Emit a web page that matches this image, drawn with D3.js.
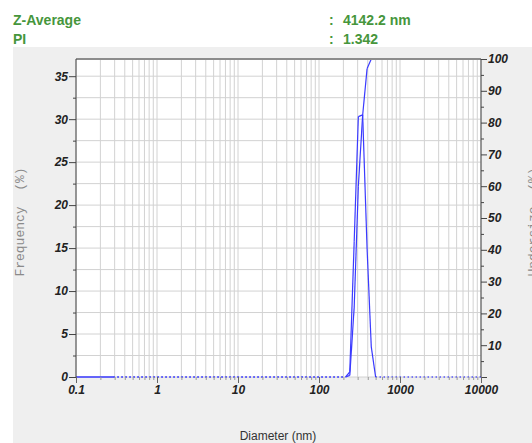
<!DOCTYPE html>
<html><head><meta charset="utf-8">
<script src="https://cdn.jsdelivr.net/npm/d3@7/dist/d3.min.js"></script>
<style>
html,body{margin:0;padding:0;background:#fff;}
</style></head>
<body><svg id="c" width="532" height="443"></svg>
<script>
// ---- data ----
const headerLabels = ["Z-Average", "PI"];
const headerValues = ["4142.2 nm", "1.342"];
const diameter  = [0.1, 0.29, 213, 240, 272, 306, 346, 392, 442, 500, 10000];
const frequency = [0, 0, 0, 0.6, 15.8, 30.3, 30.5, 15, 3.5, 0, 0];
const undersize = [0, 0, 0, 0.5, 22, 60, 82.4, 96.9, 100, 100, 100];
const xTickValues = [0.1, 1, 10, 100, 1000, 10000];
const xTickLabels = ["0.1", "1", "10", "100", "1000", "10000"];
const yLeftTicks = [0, 5, 10, 15, 20, 25, 30, 35];
const yRightTicks = [0, 10, 20, 30, 40, 50, 60, 70, 80, 90, 100];

const SANS = "Arial, 'Liberation Sans', sans-serif";
const MONO = "'Liberation Mono', 'DejaVu Sans Mono', monospace";
const svg = d3.select("#c");
const L = 76, R = 481, T = 59, B = 377;
const x = d3.scaleLog().domain([0.1, 10000]).range([L, R]);
const yL = d3.scaleLinear().domain([0, 37]).range([B, T]);
const yR = d3.scaleLinear().domain([0, 100]).range([B, T]);

// backgrounds
svg.append("rect").attr("x", 13).attr("y", 47).attr("width", 519).attr("height", 396).attr("fill", "#efefef");
svg.append("rect").attr("x", L).attr("y", T).attr("width", R - L).attr("height", B - T).attr("fill", "#fff");

// header
const green = "#46963c";
headerLabels.forEach((t, i) => {
  const yy = 25 + i * 19;
  [[13, t], [329, ":"], [343, headerValues[i]]].forEach(([xx, s]) => {
    svg.append("text").attr("x", xx).attr("y", yy).attr("fill", green)
      .style("font-family", SANS).style("font-size", "14px").style("font-weight", "bold").text(s);
  });
});

// grid
const gridCol = "#d2d2d2";
const minorX = [];
for (let e = -1; e < 4; e++) for (let k = 1; k <= 9; k++) minorX.push(k * Math.pow(10, e));
minorX.push(10000);
svg.append("g").selectAll("line").data(minorX).join("line")
  .attr("x1", d => x(d)).attr("x2", d => x(d)).attr("y1", T).attr("y2", B)
  .attr("stroke", gridCol).attr("stroke-width", 1);
const hGrid = d3.range(0, 37.01, 2.5);
svg.append("g").selectAll("line").data(hGrid).join("line")
  .attr("x1", L).attr("x2", R).attr("y1", d => yL(d)).attr("y2", d => yL(d))
  .attr("stroke", gridCol).attr("stroke-width", 1);

// series: flat runs after the first bin are drawn dotted
const blue = "#3a3aff";
function drawSeries(vals, yScale) {
  for (let i = 0; i < diameter.length - 1; i++) {
    const flat = vals[i] === vals[i + 1] && i > 0;
    svg.append("path")
      .attr("d", d3.line()([[x(diameter[i]), yScale(vals[i])], [x(diameter[i + 1]), yScale(vals[i + 1])]]))
      .attr("fill", "none").attr("stroke", blue)
      .attr("stroke-width", flat ? 1.3 : 1.2)
      .attr("stroke-dasharray", flat ? "1.2,2.8" : null);
  }
}
drawSeries(undersize, yR);
drawSeries(frequency, yL);

// frame top (drawn over the 100 % plateau)
svg.append("line").attr("x1", L).attr("x2", R).attr("y1", T).attr("y2", T)
  .attr("stroke", "#8c8c8c").attr("stroke-width", 2);

// axes
const tickFont = g => g.selectAll("text").style("font-size", "12px").style("font-weight", "bold")
  .style("font-style", "italic").attr("fill", "#222").style("font-family", SANS);
const axCol = g => { g.selectAll("path,line").attr("stroke", "#444"); };

// left
const gl = svg.append("g").attr("transform", `translate(${L},0)`)
  .call(d3.axisLeft(yL).tickValues(yLeftTicks).tickSize(7).tickPadding(1).tickFormat(d3.format("d")));
gl.select(".domain").attr("d", `M0,${T}V${B}`);
axCol(gl); tickFont(gl);
const glm = svg.append("g").attr("transform", `translate(${L},0)`)
  .call(d3.axisLeft(yL).tickValues(d3.range(2.5, 37, 5)).tickSize(3).tickFormat(""));
glm.select(".domain").remove(); axCol(glm);

// right
const gr = svg.append("g").attr("transform", `translate(${R},0)`)
  .call(d3.axisRight(yR).tickValues(yRightTicks).tickSize(6).tickPadding(1)
    .tickFormat(d => d === 0 ? "" : d3.format("d")(d)));
gr.select(".domain").attr("d", `M0,${T}V${B}`);
axCol(gr); tickFont(gr);
const grm = svg.append("g").attr("transform", `translate(${R},0)`)
  .call(d3.axisRight(yR).tickValues(d3.range(5, 100, 10)).tickSize(3).tickFormat(""));
grm.select(".domain").remove(); axCol(grm);

// bottom
const gb = svg.append("g").attr("transform", `translate(0,${B})`)
  .call(d3.axisBottom(x).tickValues(xTickValues).tickSize(6).tickPadding(2)
    .tickFormat((d, i) => xTickLabels[i]));
gb.select(".domain").remove();
axCol(gb); tickFont(gb);
gb.selectAll("line").attr("stroke", "#666");
const gbm = svg.append("g").attr("transform", `translate(0,${B})`)
  .call(d3.axisBottom(x).tickValues(minorX.filter(d => !xTickValues.includes(d))).tickSize(3).tickFormat(""));
gbm.select(".domain").remove();
gbm.selectAll("line").attr("stroke", "#999");

// axis titles
svg.append("text").attr("transform", "translate(24,222) rotate(-90)").attr("text-anchor", "middle")
  .style("font-family", MONO).style("font-size", "13px")
  .attr("fill", "#8a8a8a").attr("xml:space", "preserve").style("white-space", "pre").text("Frequency  (%)");
svg.append("text").attr("transform", "translate(537,222) rotate(-90)").attr("text-anchor", "middle")
  .style("font-family", MONO).style("font-size", "13px")
  .attr("fill", "#8a8a8a").attr("xml:space", "preserve").style("white-space", "pre").text("Undersize  (%)");
svg.append("text").attr("x", 278).attr("y", 440).attr("text-anchor", "middle")
  .style("font-family", SANS).style("font-size", "12px").attr("fill", "#333").text("Diameter (nm)");
</script></body></html>
